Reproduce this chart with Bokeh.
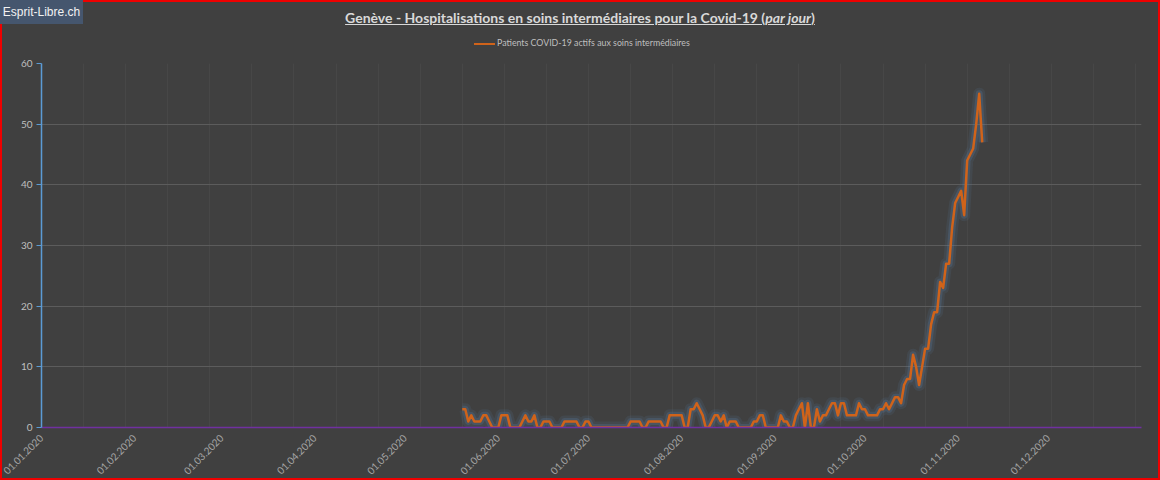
import math
import pandas as pd
from bokeh.plotting import figure
from bokeh.models import (ColumnDataSource, Range1d, FixedTicker, DatetimeTickFormatter, Div)
from bokeh.layouts import column
from bokeh.embed import file_html
from bokeh.resources import INLINE

# ---------------- data ----------------
title_main = "Genève - Hospitalisations en soins intermédiaires pour la Covid-19"
title_italic = "par jour"
series_name = "Patients COVID-19 actifs aux soins intermédiaires"
badge_text = "Esprit-Libre.ch"

start_date = "2020-05-20"
patients = [
    3, 3, 1, 2, 1, 1, 1, 2, 2, 1, 0, 0, 0, 2, 2, 2, 0, 0, 0, 0,
    1, 2, 1, 1, 2, 0, 0, 1, 1, 1, 0, 0, 0, 0, 1, 1, 1, 1, 1, 0,
    0, 1, 1, 0, 0, 0, 0, 0, 0, 0, 0, 0, 0, 0, 0, 0, 1, 1, 1, 1,
    0, 0, 1, 1, 1, 1, 1, 0, 0, 2, 2, 2, 2, 2, 0, 0, 3, 3, 4, 3,
    2, 0, 0, 1, 2, 2, 1, 2, 0, 1, 1, 1, 0, 0, 0, 0, 0, 1, 1, 2,
    2, 0, 0, 0, 0, 0, 2, 1, 1, 0, 0, 2, 3, 4, 0, 4, 0, 0, 3, 1,
    2, 2, 3, 4, 4, 2, 4, 4, 2, 2, 2, 2, 4, 3, 3, 2, 2, 2, 2, 3,
    3, 4, 3, 4, 5, 5, 4, 7, 8, 8, 12, 10, 7, 10, 13, 13, 17, 19, 19, 24,
    23, 27, 27, 33, 37, 38, 39, 35, 44, 45, 46, 50, 55, 47,
]
month_ticks = ["2020-01-01", "2020-02-01", "2020-03-01", "2020-04-01", "2020-05-01", "2020-06-01",
               "2020-07-01", "2020-08-01", "2020-09-01", "2020-10-01", "2020-11-01", "2020-12-01"]
y_ticks = [0, 10, 20, 30, 40, 50, 60]
y_max = 60
x_start, x_end = "2020-01-01", "2021-01-01"

# ---------------- build ----------------
dates = pd.date_range(start_date, periods=len(patients), freq="D")
src = ColumnDataSource(dict(date=dates, v=patients))

BG = "#404040"
ORANGE = "#d0631a"
RED = "#ee0000"
FONT = "Lato"

W, H = 1160, 480
HEAD = 55
L, R, T, B = 41, 19, 8, 53

# header (title, legend, badge) + page frame overlay
header_html = f"""
<div style="position:relative;width:{W}px;height:{HEAD}px;background:{BG};">
  <div style="position:fixed;left:0;top:0;width:{W}px;height:{H}px;border:2px solid {RED};
              box-sizing:border-box;pointer-events:none;z-index:10;"></div>
  <div style="position:absolute;left:0;top:0;width:83px;height:24px;background:#45566e;z-index:11;
              color:#f2f2f2;font-family:'Liberation Sans',Arial,sans-serif;font-size:12px;
              line-height:24px;text-align:center;">{badge_text}</div>
  <div style="position:absolute;left:0;top:9px;width:{W}px;text-align:center;
              font-family:{FONT};font-weight:bold;font-size:14px;line-height:17px;color:#d9d9d9;
              text-decoration:underline;text-underline-offset:1px;">{title_main} (<i>{title_italic}</i>)</div>
  <div style="position:absolute;left:474px;top:36px;height:14px;line-height:14px;white-space:nowrap;
              font-family:{FONT};font-size:8.8px;color:#bfbfbf;">
    <span style="display:inline-block;width:21px;height:2px;background:{ORANGE};
                 vertical-align:middle;margin-right:2px;"></span>{series_name}</div>
</div>
"""
header = Div(text=header_html, width=W, height=HEAD, margin=0,
             styles={"background-color": BG})

p = figure(width=W, height=H - HEAD, output_backend="svg", toolbar_location=None,
           x_axis_type="datetime",
           x_range=Range1d(pd.Timestamp(x_start), pd.Timestamp(x_end)),
           y_range=Range1d(0, y_max),
           min_border_left=L, min_border_right=R, min_border_top=T, min_border_bottom=B,
           margin=0)
p.background_fill_color = BG
p.border_fill_color = BG
p.outline_line_color = None

# grids
p.ygrid.ticker = FixedTicker(ticks=y_ticks)
p.ygrid.grid_line_color = "#5c5c5c"
p.ygrid.grid_line_width = 1
two_weeks = pd.date_range(x_start, x_end, freq="14D")
p.xgrid.ticker = FixedTicker(ticks=[int(t.value // 10**6) for t in two_weeks])
p.xgrid.grid_line_color = "#474747"

# x axis
xa = p.xaxis[0]
xa.ticker = FixedTicker(ticks=[int(pd.Timestamp(m).value // 10**6) for m in month_ticks], minor_ticks=[])
fmt = "%d.%m.%Y"
xa.formatter = DatetimeTickFormatter(days=fmt, months=fmt, years=fmt, hours=fmt, hourmin=fmt)
xa.major_label_orientation = math.pi / 4
xa.axis_line_color = "#7030a0"
xa.axis_line_width = 1.5
xa.major_tick_line_color = None
xa.minor_tick_line_color = None
xa.major_label_text_color = "#a6a6a6"
xa.major_label_text_font = FONT
xa.major_label_text_font_size = "10px"
xa.major_label_standoff = 3

# y axis
ya = p.yaxis[0]
ya.ticker = FixedTicker(ticks=y_ticks, minor_ticks=[])
ya.axis_line_color = "#5b9bd5"
ya.axis_line_width = 1.5
ya.major_tick_line_color = "#5b9bd5"
ya.major_tick_out = 5
ya.major_tick_in = 0
ya.minor_tick_line_color = None
ya.major_label_text_color = "#bfbfbf"
ya.major_label_text_font = FONT
ya.major_label_text_font_size = "10px"
ya.major_label_standoff = 4

# glow + line
p.line("date", "v", source=src, line_color="#5b84b0", line_alpha=0.12, line_width=12, line_join="round")
p.line("date", "v", source=src, line_color="#5b84b0", line_alpha=0.22, line_width=7, line_join="round")
p.line("date", "v", source=src, line_color=ORANGE, line_width=2.5, line_join="round")

layout = column(header, p, spacing=0, margin=0, styles={"background-color": BG})

open("out.html", "w").write(file_html(layout, INLINE))
